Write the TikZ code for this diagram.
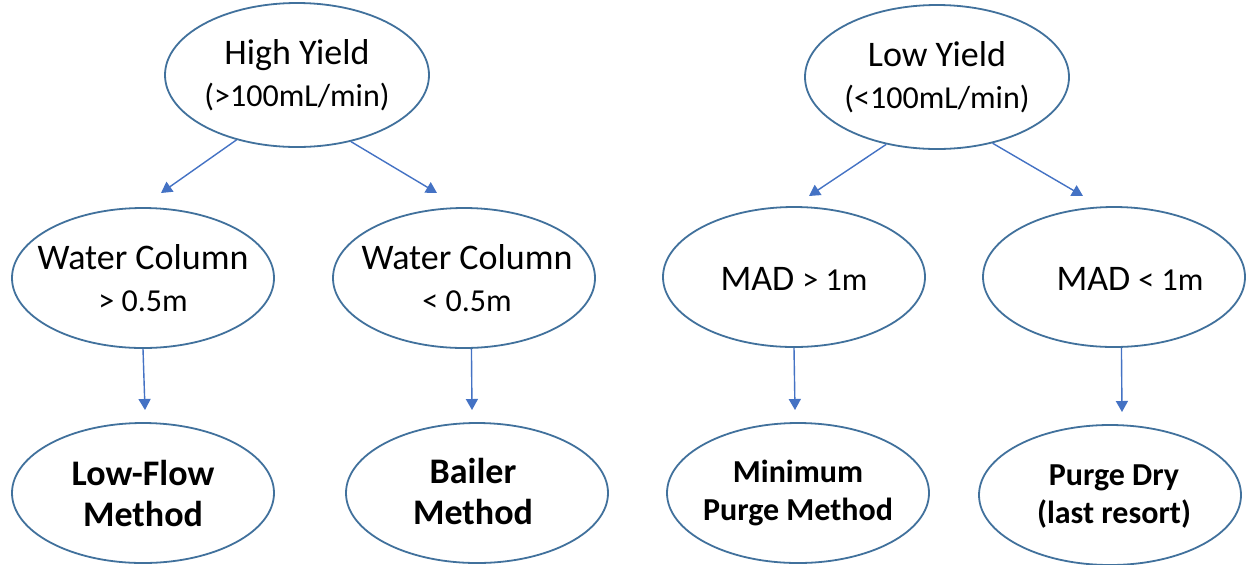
\documentclass[tikz,border=0pt]{standalone}
\usepackage{fontspec}
\setmainfont{Carlito}
\usetikzlibrary{shapes.geometric,arrows.meta}
\definecolor{ellline}{HTML}{41719C}
\definecolor{arrline}{HTML}{4472C4}
\tikzset{
  ellbox/.style={draw=ellline, line width=0.9pt, ellipse, inner sep=0pt, fill=white},
  topell/.style={ellbox, minimum width=132pt, minimum height=72pt},
  midell/.style={ellbox, minimum width=131pt, minimum height=70pt},
  txt/.style={align=center, inner sep=0pt, font=\fontsize{18}{21}\selectfont},
  btxt/.style={align=center, inner sep=0pt, font=\bfseries\fontsize{18}{20.5}\selectfont},
  sbtxt/.style={align=center, inner sep=0pt, font=\bfseries\fontsize{16}{19}\selectfont},
  conn/.style={draw=arrline, line width=0.7pt, -{Triangle[length=5.5pt,width=6pt]}, arrline}
}
\newcommand{\sm}[1]{{\fontsize{16}{21}\selectfont #1}}
\begin{document}
\begin{tikzpicture}[x=0.5pt,y=-0.5pt]
\useasboundingbox[fill=white] (0,0) rectangle (1248,564);

% top level
\node[topell] (hy) at (297,75) {};
\node[txt] (hyt) at (hy.center) {High Yield\\\sm{(>100mL/min)}};
\node[topell] (ly) at (937,77) {};
\node[txt] (lyt) at (ly.center) {Low Yield\\\sm{(<100mL/min)}};

% middle level
\node[midell] (wc1) at (143,278) {};
\node[txt] (wc1t) at (wc1.center) {Water Column\\\sm{> 0.5m}};
\node[midell] (wc2) at (464,278) {};
\node[txt] (wc2t) at ([xshift=1.5pt]wc2.center) {Water Column\\\sm{< 0.5m}};
\node[midell] (mad1) at (794,277) {};
\node[txt] (mad1t) at ([yshift=-1pt]mad1.center) {MAD \sm{> 1m}};
\node[midell] (mad2) at (1114,277) {};
\node[txt] (mad2t) at ([xshift=8pt,yshift=-1pt]mad2.center) {MAD \sm{< 1m}};

% bottom level
\node[midell] (lf) at (143,493) {};
\node[btxt] (lft) at (lf.center) {Low-Flow\\Method};
\node[midell] (bm) at (477,493) {};
\node[btxt] (bmt) at ([xshift=-2pt,yshift=1pt]bm.center) {Bailer\\Method};
\node[midell] (mp) at (798,493) {};
\node[sbtxt] (mpt) at (mp.center) {Minimum\\Purge Method};
\node[midell] (pd) at (1110,495) {};
\node[sbtxt] (pdt) at ([xshift=2pt,yshift=-1pt]pd.center) {Purge Dry\\(last resort)};

% arrow end points
\coordinate (e1) at (161,193);
\coordinate (e2) at (437,193);
\coordinate (e3) at (809,196);
\coordinate (e4) at (1083,196);
\coordinate (e5) at (145,410);
\coordinate (e6) at (472,410);
\coordinate (e7) at (795,410);
\coordinate (e8) at (1122,412);

\draw[conn] (hy.227) -- (e1);
\draw[conn] (hy.309) -- (e2);
\draw[conn] (ly.233) -- (e3);
\draw[conn] (ly.310) -- (e4);
\draw[conn] (wc1.south) -- (e5);
\draw[conn] (wc2.276) -- (e6);
\draw[conn] (mad1.south) -- (e7);
\draw[conn] (mad2.276.5) -- (e8);
\end{tikzpicture}
\end{document}
